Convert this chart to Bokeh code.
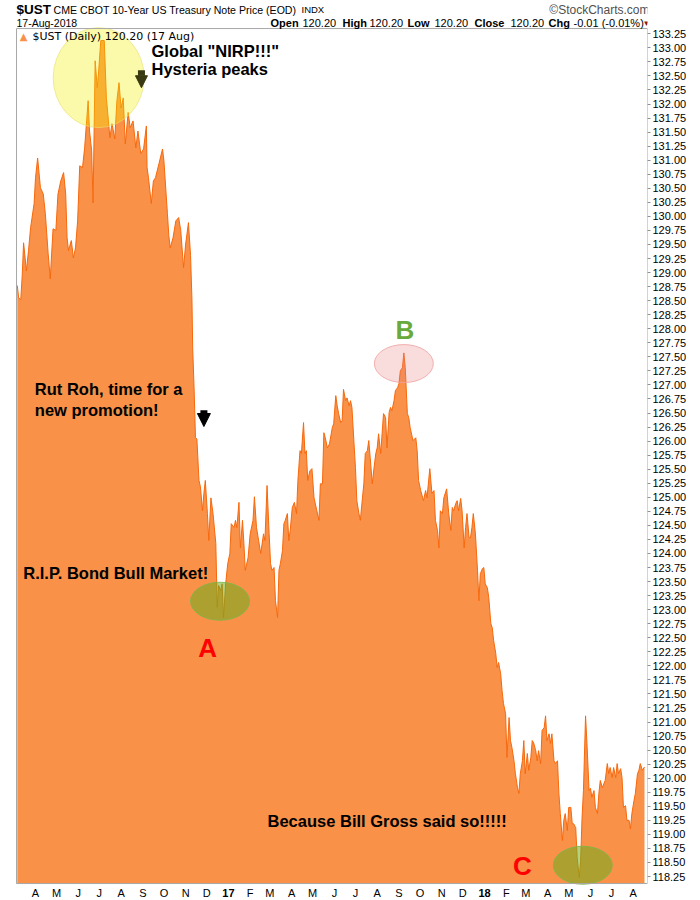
import pandas as pd
from bokeh.plotting import figure
from bokeh.models import (Range1d, Label, Arrow, NormalHead, FixedTicker,
                          NumeralTickFormatter, BoxAnnotation)
from bokeh.embed import file_html
from bokeh.resources import INLINE

# ---------------- data ----------------
dates = [
    "2016-03-06", "2016-03-08", "2016-03-11", "2016-03-13", "2016-03-15", "2016-03-19", "2016-03-22", "2016-03-25", "2016-03-30",
    "2016-04-01", "2016-04-04", "2016-04-08", "2016-04-12", "2016-04-15", "2016-04-19", "2016-04-22", "2016-04-26", "2016-04-30",
    "2016-05-03", "2016-05-07", "2016-05-11", "2016-05-14", "2016-05-16", "2016-05-18", "2016-05-22", "2016-05-25", "2016-05-28", "2016-05-31",
    "2016-06-03", "2016-06-07", "2016-06-10", "2016-06-15", "2016-06-17", "2016-06-20", "2016-06-22", "2016-06-25", "2016-06-28", "2016-06-30",
    "2016-07-03", "2016-07-08", "2016-07-11", "2016-07-13", "2016-07-16", "2016-07-19", "2016-07-23", "2016-07-26", "2016-07-29",
    "2016-08-01", "2016-08-04", "2016-08-07", "2016-08-11", "2016-08-14", "2016-08-18", "2016-08-22", "2016-08-25", "2016-08-29",
    "2016-09-02", "2016-09-06", "2016-09-07", "2016-09-09", "2016-09-13", "2016-09-16", "2016-09-19", "2016-09-24", "2016-09-29",
    "2016-10-01", "2016-10-06", "2016-10-08", "2016-10-10", "2016-10-14", "2016-10-18", "2016-10-22", "2016-10-25", "2016-10-29",
    "2016-11-01", "2016-11-05", "2016-11-08", "2016-11-10", "2016-11-11", "2016-11-13", "2016-11-15", "2016-11-17", "2016-11-20", "2016-11-22", "2016-11-25", "2016-11-27", "2016-11-29",
    "2016-12-02", "2016-12-04", "2016-12-07", "2016-12-10", "2016-12-14", "2016-12-16", "2016-12-18", "2016-12-21", "2016-12-23", "2016-12-25", "2016-12-28", "2016-12-31",
    "2017-01-03", "2017-01-05", "2017-01-09", "2017-01-11", "2017-01-13", "2017-01-16", "2017-01-18", "2017-01-21", "2017-01-23", "2017-01-25", "2017-01-29",
    "2017-02-01", "2017-02-05", "2017-02-07", "2017-02-10", "2017-02-13", "2017-02-16", "2017-02-20", "2017-02-22", "2017-02-25", "2017-02-28",
    "2017-03-02", "2017-03-04", "2017-03-07", "2017-03-09", "2017-03-12", "2017-03-14", "2017-03-16", "2017-03-19", "2017-03-21", "2017-03-23", "2017-03-26", "2017-03-28", "2017-03-30",
    "2017-04-02", "2017-04-05", "2017-04-08", "2017-04-10", "2017-04-13", "2017-04-15", "2017-04-18", "2017-04-20", "2017-04-22", "2017-04-24", "2017-04-27", "2017-04-30",
    "2017-05-03", "2017-05-07", "2017-05-10", "2017-05-12", "2017-05-15", "2017-05-17", "2017-05-19", "2017-05-22", "2017-05-25", "2017-05-29", "2017-05-31",
    "2017-06-03", "2017-06-05", "2017-06-07", "2017-06-10", "2017-06-12", "2017-06-14", "2017-06-17", "2017-06-19", "2017-06-22", "2017-06-24", "2017-06-26", "2017-06-29",
    "2017-07-01", "2017-07-03", "2017-07-06", "2017-07-08", "2017-07-11", "2017-07-13", "2017-07-15", "2017-07-18", "2017-07-20", "2017-07-22", "2017-07-25", "2017-07-27", "2017-07-30",
    "2017-08-01", "2017-08-03", "2017-08-06", "2017-08-08", "2017-08-10", "2017-08-13", "2017-08-15", "2017-08-18", "2017-08-20", "2017-08-22", "2017-08-25", "2017-08-27", "2017-08-30",
    "2017-09-01", "2017-09-03", "2017-09-06", "2017-09-08", "2017-09-10", "2017-09-13", "2017-09-15", "2017-09-17", "2017-09-21", "2017-09-25", "2017-09-27", "2017-09-29",
    "2017-10-02", "2017-10-06", "2017-10-09", "2017-10-11", "2017-10-15", "2017-10-18", "2017-10-21", "2017-10-23", "2017-10-26", "2017-10-28", "2017-10-30",
    "2017-11-02", "2017-11-04", "2017-11-08", "2017-11-11", "2017-11-14", "2017-11-16", "2017-11-18", "2017-11-21", "2017-11-23", "2017-11-25", "2017-11-28", "2017-11-30",
    "2017-12-03", "2017-12-05", "2017-12-07", "2017-12-10", "2017-12-12", "2017-12-14", "2017-12-16", "2017-12-19", "2017-12-22", "2017-12-24", "2017-12-26", "2017-12-29", "2017-12-31",
    "2018-01-02", "2018-01-05", "2018-01-07", "2018-01-10", "2018-01-12", "2018-01-14", "2018-01-17", "2018-01-19", "2018-01-21", "2018-01-24", "2018-01-26", "2018-01-28", "2018-01-31",
    "2018-02-02", "2018-02-05", "2018-02-07", "2018-02-09", "2018-02-12", "2018-02-14", "2018-02-17", "2018-02-19", "2018-02-21", "2018-02-24", "2018-02-26", "2018-02-28",
    "2018-03-03", "2018-03-05", "2018-03-08", "2018-03-10", "2018-03-12", "2018-03-15", "2018-03-17", "2018-03-19", "2018-03-22", "2018-03-24", "2018-03-27", "2018-03-29", "2018-03-31",
    "2018-04-03", "2018-04-05", "2018-04-07", "2018-04-10", "2018-04-12", "2018-04-15", "2018-04-17", "2018-04-19", "2018-04-22", "2018-04-24", "2018-04-26", "2018-04-29",
    "2018-05-01", "2018-05-04", "2018-05-06", "2018-05-08", "2018-05-11", "2018-05-13", "2018-05-16", "2018-05-18", "2018-05-20", "2018-05-22", "2018-05-25", "2018-05-27", "2018-05-30",
    "2018-06-01", "2018-06-03", "2018-06-06", "2018-06-08", "2018-06-11", "2018-06-13", "2018-06-15", "2018-06-18", "2018-06-20", "2018-06-22", "2018-06-25", "2018-06-27", "2018-06-29",
    "2018-07-02", "2018-07-04", "2018-07-07", "2018-07-09", "2018-07-11", "2018-07-14", "2018-07-16", "2018-07-18", "2018-07-21", "2018-07-23", "2018-07-26", "2018-07-28", "2018-07-30",
    "2018-08-02", "2018-08-04", "2018-08-07", "2018-08-09", "2018-08-11", "2018-08-14", "2018-08-17",
]

prices = [
    128.77, 128.55, 128.52, 128.94, 129.53, 129.03, 129.39, 129.80, 130.23,
    130.69, 131.04, 130.51, 130.40, 130.05, 129.34, 128.89, 129.78, 129.75,
    130.40, 130.63, 130.78, 130.40, 129.62, 129.39, 129.57, 129.26, 129.44, 129.92,
    130.90, 130.87, 131.22, 132.06, 131.52, 131.17, 130.24, 132.77, 132.29, 132.59,
    133.13, 133.13, 132.11, 131.83, 131.40, 131.65, 131.38, 132.06, 132.38,
    131.93, 132.11, 131.29, 131.85, 131.58, 131.70, 131.22, 131.52, 131.12,
    131.20, 131.61, 130.87, 130.69, 130.23, 130.63, 130.69, 130.94, 131.20,
    130.99, 130.05, 129.66, 129.44, 129.62, 129.92, 129.98, 129.75, 129.09,
    129.51, 129.89, 129.30, 128.50, 127.66, 126.95, 126.06, 126.04, 125.30, 125.19, 124.76, 125.07, 125.30,
    124.71, 124.23, 124.99, 124.71, 124.18, 123.04, 123.43, 123.34, 123.46, 122.86, 123.46, 123.82,
    124.00, 124.53, 124.46, 124.59, 124.46, 124.91, 124.10, 124.59, 124.18, 123.70, 123.93,
    124.35, 124.59, 125.01, 124.46, 124.23, 124.00, 124.35, 124.23, 125.21, 124.35,
    123.82, 123.70, 123.75, 123.16, 122.86, 123.70, 123.82, 124.05, 124.53, 124.59, 124.71, 124.23, 124.41,
    124.82, 124.91, 124.71, 125.30, 125.83, 125.78, 126.33, 125.78, 125.83, 125.30, 125.47, 125.51,
    124.99, 124.76, 124.59, 125.24, 125.24, 126.15, 126.06, 125.88, 125.95, 126.24, 126.31,
    126.81, 126.63, 126.49, 126.33, 126.36, 126.92, 126.72, 126.77, 126.63, 126.72, 126.60, 125.95,
    125.53, 124.94, 124.71, 124.59, 124.99, 125.24, 125.78, 125.83, 126.01, 125.71, 125.24, 125.47, 125.78,
    125.88, 126.13, 125.78, 126.13, 126.49, 126.42, 125.88, 126.51, 126.60, 126.54, 126.72, 126.90, 126.95,
    127.02, 127.25, 127.31, 127.57, 127.31, 126.49, 126.42, 126.24, 126.01, 126.06, 125.83, 125.30,
    125.12, 124.94, 125.12, 124.99, 125.51, 125.07, 125.12, 124.59, 124.41, 124.10, 124.76,
    124.71, 124.99, 125.15, 124.71, 124.41, 124.82, 124.76, 124.89, 124.94, 124.76, 124.98, 124.76,
    124.10, 124.46, 124.71, 124.28, 124.28, 124.46, 124.71, 124.35, 123.70, 123.16, 123.64, 123.73, 123.75,
    123.46, 123.39, 123.22, 122.75, 122.68, 122.45, 122.22, 121.97, 122.06, 121.86, 121.56, 121.33, 121.15,
    120.37, 121.08, 120.67, 120.55, 120.31, 120.08, 119.83, 119.73, 120.08, 120.31, 120.67, 120.08,
    120.44, 120.14, 120.37, 120.67, 120.63, 120.49, 120.31, 120.49, 120.26, 120.85, 120.90, 121.11, 120.67,
    120.79, 120.62, 120.79, 120.31, 120.26, 120.31, 119.73, 119.37, 118.89, 119.25, 119.37, 119.07,
    119.48, 119.48, 119.19, 119.19, 119.12, 118.59, 118.23, 118.53, 119.30, 119.78, 121.11, 120.62, 119.78,
    119.82, 119.66, 119.78, 119.48, 119.37, 119.73, 119.96, 119.83, 119.90, 119.96, 120.26, 120.08, 120.19,
    120.01, 120.19, 120.01, 120.26, 120.08, 120.17, 120.01, 119.48, 119.51, 119.25, 119.25, 119.10, 119.37,
    119.60, 119.73, 120.08, 120.14, 120.26, 120.14, 120.20,
]

tick_months = [
    "2016-04-01", "2016-05-01", "2016-06-01", "2016-07-01", "2016-08-01", "2016-09-01", "2016-10-01",
    "2016-11-01", "2016-12-01", "2017-01-01", "2017-02-01", "2017-03-01", "2017-04-01", "2017-05-01",
    "2017-06-01", "2017-07-01", "2017-08-01", "2017-09-01", "2017-10-01", "2017-11-01", "2017-12-01",
    "2018-01-01", "2018-02-01", "2018-03-01", "2018-04-01", "2018-05-01", "2018-06-01", "2018-07-01",
    "2018-08-01",
]
tick_labels = ["A", "M", "J", "J", "A", "S", "O", "N", "D", "17", "F", "M", "A", "M", "J", "J", "A",
               "S", "O", "N", "D", "18", "F", "M", "A", "M", "J", "J", "A"]
year_labels = ["17", "18"]

price_low, price_high, price_step = 118.25, 133.25, 0.25
y_ticks = [round(price_low + price_step * i, 2)
           for i in range(int(round((price_high - price_low) / price_step)) + 1)]

# chart box (price panel) limits
box_left, box_right = "2016-03-04 22:00", "2018-08-21 07:00"
box_bottom, box_top = 118.125, 133.344

# ---------------- figure ----------------
def ms(s):
    return pd.Timestamp(s).value / 1e6

x = pd.to_datetime(dates)

FONT = "Liberation Sans"
ORANGE_FILL = "#f99148"
ORANGE_LINE = "#f6680c"
W, H = 700, 900

p = figure(width=W, height=H, x_axis_type="datetime", x_axis_location=None,
           y_axis_location="right", output_backend="svg", toolbar_location=None,
           x_range=Range1d(ms("2016-02-11 02:00"), ms("2018-08-21 07:00")),
           y_range=Range1d(117.823, 133.843),
           min_border_left=0, min_border_right=53, min_border_top=0, min_border_bottom=0)
p.background_fill_color = "white"
p.border_fill_color = "white"
p.outline_line_color = None
p.grid.grid_line_color = None

p.varea(x=x, y1=box_bottom, y2=prices, fill_color=ORANGE_FILL, fill_alpha=1.0)
p.line(x, prices, line_color=ORANGE_LINE, line_width=1)

p.add_layout(BoxAnnotation(left=ms(box_left), right=ms(box_right), bottom=box_bottom, top=box_top,
                           fill_alpha=0, line_color="#a8a8a8", line_width=1, line_alpha=1))

# right axis
ya = p.yaxis[0]
ya.ticker = FixedTicker(ticks=y_ticks, minor_ticks=[])
ya.formatter = NumeralTickFormatter(format="0.00")
ya.axis_line_color = None
ya.major_tick_out = 3
ya.major_tick_in = 0
ya.minor_tick_line_color = None
ya.major_tick_line_color = "#909090"
ya.major_label_standoff = 2
ya.major_label_text_font = FONT
ya.major_label_text_font_size = "11px"
ya.major_label_text_color = "#000000"

# bottom month labels (inside the canvas frame, under the price box)
for t, lab in zip(tick_months, tick_labels):
    p.add_layout(Label(x=ms(t), y=8, x_units="data", y_units="screen", text=lab,
                       text_align="center", text_baseline="middle", text_font=FONT,
                       text_font_size="11px",
                       text_font_style="bold" if lab in year_labels else "normal",
                       text_color="#000000"))

# ---------------- highlight ellipses ----------------
p.ellipse(x=[ms("2016-06-30")], y=[132.47], width=91, height=100,
          width_units="screen", height_units="screen",
          fill_color="#f2f000", fill_alpha=0.33, line_color="#e6e070", line_alpha=0.6)
p.ellipse(x=[ms("2016-12-20")], y=[123.15], width=59, height=38,
          width_units="screen", height_units="screen",
          fill_color="#6eaf1e", fill_alpha=0.55, line_color="#7ab648", line_alpha=0.8)
p.ellipse(x=[ms("2017-09-08")], y=[127.38], width=59, height=38,
          width_units="screen", height_units="screen",
          fill_color="#e88080", fill_alpha=0.28, line_color="#f0a0a0", line_alpha=0.8)
p.ellipse(x=[ms("2018-05-21")], y=[118.45], width=59, height=38,
          width_units="screen", height_units="screen",
          fill_color="#6eaf1e", fill_alpha=0.55, line_color="#7ab648", line_alpha=0.8)

# ---------------- arrows ----------------
p.add_layout(Arrow(end=NormalHead(size=12, fill_color="#3a3a12", line_color="#3a3a12"),
                   x_start=ms("2016-08-30"), y_start=132.60, x_end=ms("2016-08-30"), y_end=132.29,
                   line_width=7, line_color="#3a3a12"))
p.add_layout(Arrow(end=NormalHead(size=13, fill_color="black", line_color="black"),
                   x_start=ms("2016-11-27"), y_start=126.55, x_end=ms("2016-11-27"), y_end=126.26,
                   line_width=7, line_color="black"))

# ---------------- annotation texts ----------------
def note(text, xd, yv, size="16.5px", color="#000000", align="left"):
    p.add_layout(Label(x=ms(xd), y=yv, text=text, text_font=FONT, text_font_size=size,
                       text_font_style="bold", text_color=color, text_align=align,
                       text_baseline="middle"))

note('Global "NIRP!!!"', "2016-09-13 07:00", 132.95)
note("Hysteria peaks", "2016-09-13 07:00", 132.63)
note("Rut Roh, time for a", "2016-03-31", 126.92)
note("new promotion!", "2016-03-31", 126.56)
note("R.I.P. Bond Bull Market!", "2016-03-14 12:00", 123.66)
note("Because Bill Gross said so!!!!!", "2017-02-25 16:00", 119.23)
note("A", "2016-12-02 05:00", 122.32, size="26px", color="#ff0000", align="center")
note("B", "2017-09-09 14:00", 127.97, size="26px", color="#6aaa3c", align="center")
note("C", "2018-02-24", 118.43, size="26px", color="#ff0000", align="center")

# ---------------- header (screen units, from the frame's bottom-left) ----------------
def hdr(text, sx, sy, size="11px", bold=False, color="#000000", font=FONT, align="left"):
    p.add_layout(Label(x=sx, y=sy, x_units="screen", y_units="screen", text=text,
                       text_font=font, text_font_size=size,
                       text_font_style="bold" if bold else "normal",
                       text_color=color, text_align=align, text_baseline="middle"))

L1, L2, LG = H - 9, H - 22.5, H - 36
hdr("$UST", 16, L1, size="13.5px", bold=True)
hdr("CME CBOT 10-Year US Treasury Note Price (EOD)", 53, L1, size="10.6px")
hdr("INDX", 301, L1, size="9.5px")
hdr("©StockCharts.com", 649, L1, size="12px", color="#505050", align="right")
hdr("17-Aug-2018", 16, L2, size="10.5px")
hdr("Open", 270, L2, bold=True)
hdr("120.20", 302, L2)
hdr("High", 342, L2, bold=True)
hdr("120.20", 369, L2)
hdr("Low", 407, L2, bold=True)
hdr("120.20", 434, L2)
hdr("Close", 474, L2, bold=True)
hdr("120.20", 510, L2)
hdr("Chg", 548, L2, bold=True)
hdr("-0.01 (-0.01%)", 573, L2)
hdr("▼", 646, L2, size="8px", color="#8b1a1a", align="center")

# legend inside the price box
hdr("▲", 23, LG, size="10px", color=ORANGE_FILL, font="DejaVu Sans", align="center")
hdr("$UST (Daily) 120.20 (17 Aug)", 32, LG, size="11px", font="DejaVu Sans")

open("out.html", "w").write(file_html(p, INLINE))
